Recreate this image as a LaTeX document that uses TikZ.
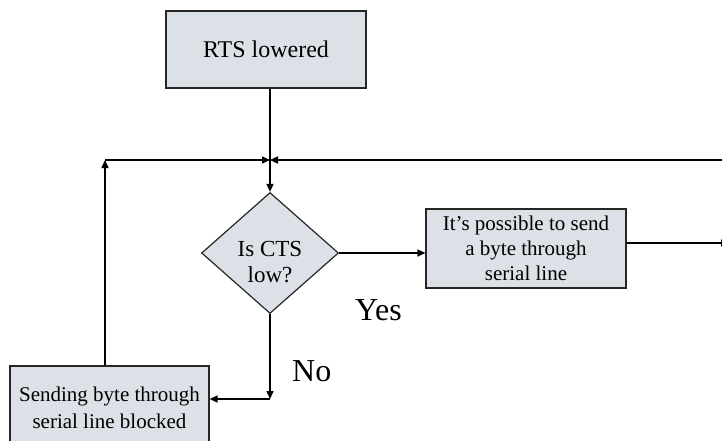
\documentclass[tikz,border=0pt]{standalone}
\usepackage{fontspec}
\setmainfont{Liberation Serif}
\usetikzlibrary{shapes.geometric,arrows.meta}
\definecolor{boxfill}{RGB}{220,225,232}
\begin{document}
\begin{tikzpicture}[x=1pt,y=-1pt,
  box/.style={draw=black!85,line width=1.2pt,fill=boxfill,inner sep=0pt,align=center},
  conn/.style={line width=1.5pt,-{Triangle[length=8pt,width=7pt]}},
  big/.style={font=\fontsize{32}{36}\selectfont,inner sep=0pt,anchor=base west}]
\useasboundingbox (0,0) rectangle (722,441);
\node[box,minimum width=200pt,minimum height=77pt,font=\fontsize{24}{28}\selectfont] (rts) at (266,49.5) {RTS lowered};
\node[box,diamond,minimum width=137pt,minimum height=121pt] (dec) at (270,253) {};
\node[font=\fontsize{23}{26}\selectfont,align=center,inner sep=0pt] (dtext) at (270,262) {Is CTS\\low?};
\node[box,minimum width=200pt,minimum height=79pt,font=\fontsize{21}{25}\selectfont] (poss) at (526,248.5) {It’s possible to send\\a byte through\\serial line};
\node[box,minimum width=199pt,minimum height=84pt,font=\fontsize{21}{27}\selectfont] (blk) at (109.5,408) {Sending byte through\\serial line blocked};
\coordinate (j) at (270,160);
\coordinate (lc) at (105,160);
\coordinate (rc) at (722,160);
\coordinate (bc) at (270,399);
\coordinate (re) at (729,243);
\draw[conn] (dec.north |- rts.south) -- (dec.north);
\draw[conn] (lc) -- (j);
\draw[conn] (rc) -- (j);
\draw[conn] (lc |- blk.north) -- (lc);
\draw[conn] (dec.east) -- (dec.east -| poss.west);
\draw[conn] (re -| poss.east) -- (re);
\draw[conn] (dec.south) -- (bc);
\draw[conn] (bc) -- (bc -| blk.east);
\node[big] (yes) at (355,320) {Yes};
\node[big] (no) at (292,381) {No};
\end{tikzpicture}
\end{document}
